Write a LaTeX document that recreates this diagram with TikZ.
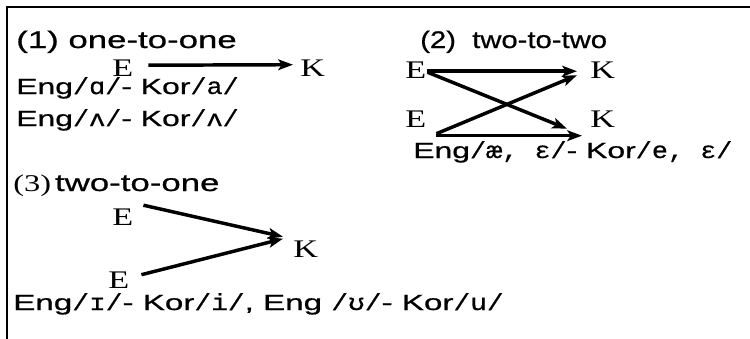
\documentclass[tikz,border=0pt]{standalone}
\usepackage{fontspec}
\setmainfont{Liberation Serif}[FakeStretch=1.35]
\newfontfamily\labfont{Liberation Sans}[FakeStretch=1.45, FakeBold=0.8]
\newfontfamily\ipafont{Liberation Mono}[FakeStretch=1.15, FakeBold=0.5]
\usetikzlibrary{arrows.meta}
\newcommand{\ph}[1]{{\ipafont\fontsize{17.5pt}{19pt}\selectfont #1}}
\begin{document}
\begin{tikzpicture}[x=0.75pt,y=-0.75pt,
  sym/.style={inner sep=0pt, anchor=base west, font=\fontsize{19pt}{21pt}\selectfont},
  ttl/.style={inner sep=0pt, anchor=base west, font=\labfont\fontsize{18pt}{20pt}\selectfont},
  lab/.style={inner sep=0pt, anchor=base west, text height=11.5pt, font=\labfont\fontsize{16.5pt}{19pt}\selectfont},
  arr/.style={line width=2.6pt, -{Stealth[length=11pt, width=8pt, inset=2.5pt]}}]
\useasboundingbox (0,0) rectangle (750,339);
% frame
\draw[line width=1.6pt] (7,339) -- (7,7) -- (750,7);

% (1) one-to-one
\node[ttl] (t1) at (16,48) {(1) one-to-one};
\node[sym] (e1) at (112,76) {E};
\node[sym] (k1) at (300,76) {K};
\draw[arr] ([shift={(15,-2.5)}]e1.east) -- ([shift={(-7,-3)}]k1.west);
\node[lab] (l1a) at (16,94) {Eng\ph{/ɑ/}- Kor\ph{/a/}};
\node[lab] (l1b) at (16,126) {Eng\ph{/ʌ/}- Kor\ph{/ʌ/}};

% (2) two-to-two
\node[ttl] (t2) at (420,48) {\scalebox{0.84}[1]{(2)\ \ two-to-two}};
\node[sym] (e2a) at (405,78) {E};
\node[sym] (k2a) at (590,78) {K};
\node[sym] (e2b) at (405,127) {E};
\node[sym] (k2b) at (590,127) {K};
\draw[arr] ([shift={(1,1.5)}]e2a.east) -- ([shift={(-13,1.5)}]k2a.west);
\draw[arr] ([shift={(1,2.5)}]e2a.east) -- ([shift={(-23,10)}]k2b.west);
\draw[arr] ([shift={(10,15)}]e2b.east) -- ([shift={(-13,5.5)}]k2a.west);
\draw[arr] ([shift={(10,17)}]e2b.east) -- ([shift={(-8,17)}]k2b.west);
\node[lab] (l2) at (413,158) {Eng\ph{/æ, ɛ/}- Kor\ph{/e, ɛ/}};

% (3) two-to-one
\node[ttl] (t3) at (13,191) {{\rmfamily (3)}\,two-to-one};
\node[sym] (e3a) at (112,225) {E};
\node[sym] (k3) at (293,257) {K};
\node[sym] (e3b) at (108,288) {E};
\draw[arr] ([shift={(10,-11.5)}]e3a.east) -- ([shift={(-10,-12)}]k3.west);
\draw[arr] ([shift={(12,-5)}]e3b.east) -- ([shift={(-10,-10)}]k3.west);
\node[lab] (l3) at (13,310) {\scalebox{1.04}[1]{Eng\ph{/ɪ/}- Kor\ph{/i/}, Eng \ph{/ʊ/}- Kor\ph{/u/}}};
\end{tikzpicture}
\end{document}
